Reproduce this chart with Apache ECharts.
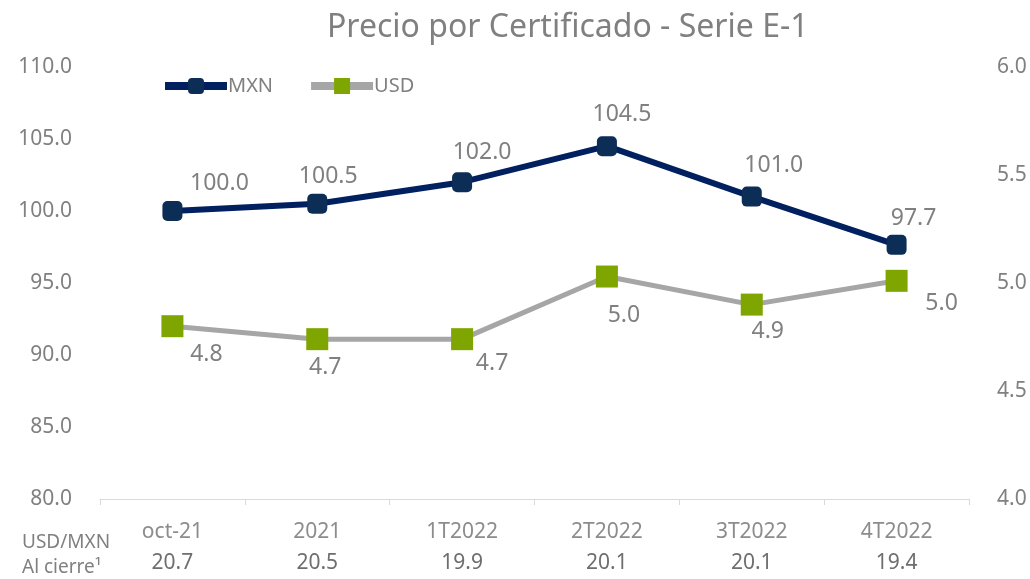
<!DOCTYPE html>
<html>
<head>
<meta charset="utf-8">
<script src="https://cdn.jsdelivr.net/npm/echarts@6/dist/echarts.min.js"></script>
<style>
  html, body { margin: 0; padding: 0; background: #fff; }
  #chart { width: 1030px; height: 579px; }
</style>
</head>
<body>
<div id="chart"></div>
<script>
// datos
const categories = ['oct-21', '2021', '1T2022', '2T2022', '3T2022', '4T2022']
const usdMxnClose = ['20.7', '20.5', '19.9', '20.1', '20.1', '19.4']
const mxnValues = [100.0, 100.5, 102.0, 104.5, 101.0, 97.65]
const usdValues = [4.80, 4.74, 4.74, 5.03, 4.90, 5.01]

// desplazamiento de etiquetas (como en el original)
const mxnLabelOffset = [[47, 2], [11, 2], [20, 0], [15, -2], [22, -2], [17, 3]]
const usdLabelOffset = [[34, -2], [8, -2], [30, -6], [17, 8], [16, -4], [45, -8]]

const grayText = '#808080'
const font = 'Noto Sans'

const chart = echarts.init(document.getElementById('chart'))

const option = {
  textStyle: { fontFamily: font },
  title: {
    text: 'Precio por Certificado - Serie E-1',
    left: 322,
    top: 7,
    textStyle: { color: grayText, fontSize: 32, fontWeight: 'normal', fontFamily: font }
  },
  legend: {
    left: 156,
    top: 71,
    itemWidth: 62,
    itemHeight: 20,
    itemGap: 34,
    lineStyle: { width: 8 },
    textStyle: { color: grayText, fontSize: 20, padding: [0, 0, 0, -4] },
    data: ['MXN', 'USD']
  },
  grid: { left: 100, right: 61, top: 67, bottom: 80 },
  xAxis: {
    type: 'category',
    data: categories,
    boundaryGap: true,
    axisLine: { lineStyle: { color: '#d9d9d9', width: 1 } },
    axisTick: { show: true, length: 6, lineStyle: { color: '#d9d9d9' } },
    axisLabel: {
      margin: 18,
      formatter: (v, i) => '{a|' + v + '}\n{b|' + usdMxnClose[i] + '}',
      rich: {
        a: { fontSize: 21, color: '#8c8c8c', fontWeight: 'normal', lineHeight: 31 },
        b: { fontSize: 21, color: '#6e6e6e', fontWeight: 'normal', lineHeight: 31 }
      }
    }
  },
  yAxis: [
    {
      type: 'value',
      min: 80, max: 110, interval: 5,
      splitLine: { show: false },
      axisLine: { show: false },
      axisLabel: { color: grayText, fontSize: 21, margin: 28, formatter: v => v.toFixed(1) }
    },
    {
      type: 'value',
      min: 4, max: 6, interval: 0.5,
      splitLine: { show: false },
      axisLine: { show: false },
      axisLabel: { color: grayText, fontSize: 21, margin: 28, formatter: v => v.toFixed(1) }
    }
  ],
  series: [
    {
      name: 'MXN',
      type: 'line',
      yAxisIndex: 0,
      symbol: 'roundRect',
      symbolSize: 20,
      itemStyle: { color: '#0b2d56' },
      lineStyle: { color: '#002060', width: 6 },
      data: mxnValues.map((v, i) => ({
        value: v,
        label: { offset: mxnLabelOffset[i] }
      })),
      label: {
        show: true,
        position: 'top',
        distance: 8,
        color: grayText,
        fontSize: 23,
        formatter: p => p.value.toFixed(1)
      },
      z: 3
    },
    {
      name: 'USD',
      type: 'line',
      yAxisIndex: 1,
      symbol: 'rect',
      symbolSize: 22,
      itemStyle: { color: '#7fa500' },
      lineStyle: { color: '#a6a6a6', width: 5 },
      data: usdValues.map((v, i) => ({
        value: v,
        label: { offset: usdLabelOffset[i] }
      })),
      label: {
        show: true,
        position: 'bottom',
        distance: 8,
        color: grayText,
        fontSize: 23,
        formatter: p => p.value.toFixed(1)
      },
      z: 2
    }
  ],
  graphic: [
    {
      type: 'text',
      left: 22,
      top: 530,
      style: {
        text: 'USD/MXN\nAl cierre¹',
        fill: grayText,
        font: '19px "Noto Sans"',
        lineHeight: 25,
        align: 'center'
      }
    }
  ]
}

chart.setOption(option)

window.addEventListener('resize', () => {
  chart?.resize()
})
</script>
</body>
</html>
